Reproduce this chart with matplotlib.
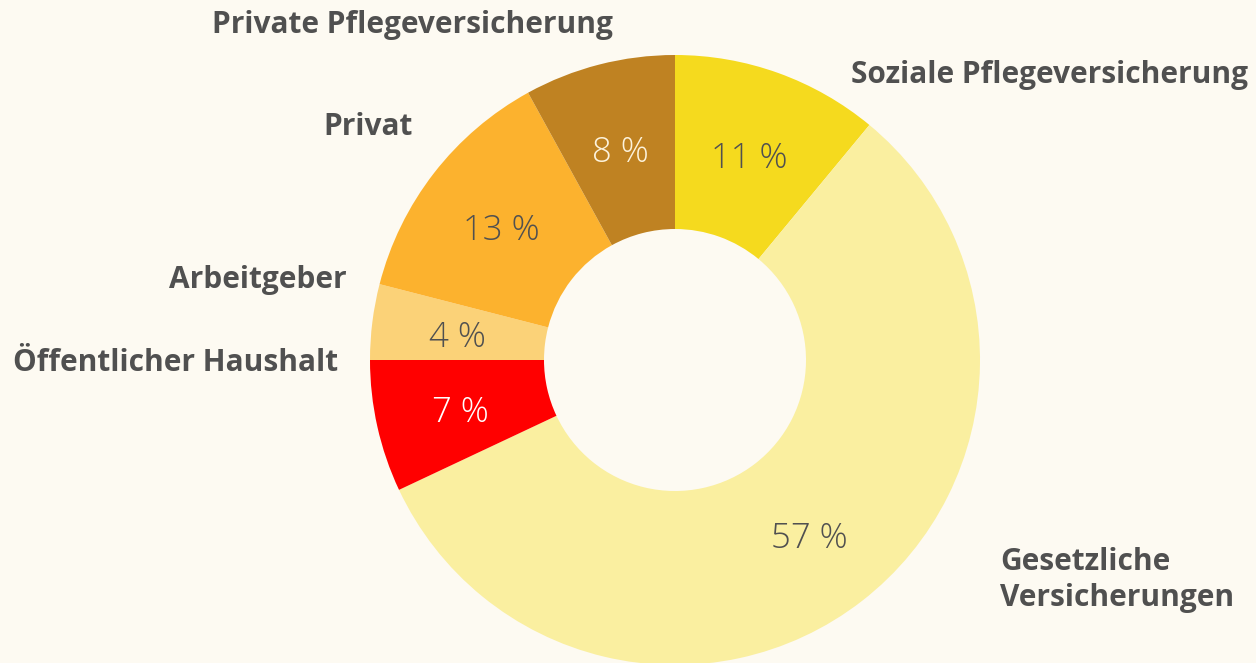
import matplotlib.pyplot as plt
import numpy as np

# Finanzierungsanteile (im Uhrzeigersinn ab 12 Uhr)
labels = ['Soziale Pflegeversicherung', 'Gesetzliche\nVersicherungen', 'Öffentlicher Haushalt',
          'Arbeitgeber', 'Privat', 'Private Pflegeversicherung']
shares = [11, 57, 7, 4, 13, 8]
colors = ['#F5DA1E', '#FAEFA0', '#FF0000', '#FBD278', '#FCB22E', '#BF8222']
pct_colors = ['#505050', '#505050', '#FFFFFF', '#505050', '#505050', '#FDF3DC']

# Beschriftungspositionen in Pixeln (x, y von oben) und Ausrichtung
label_pos = [(851, 75, 'left'), (1000, 580, 'left'), (338, 363, 'right'),
             (347, 280, 'right'), (413, 127, 'right'), (412, 25, 'center')]

W, H = 1256, 663
bg = '#FDFAF2'
plt.rcParams['font.family'] = ['Open Sans', 'DejaVu Sans']

fig = plt.figure(figsize=(W / 100, H / 100), dpi=100, facecolor=bg)
ax = fig.add_axes([0, 0, 1, 1])
ax.set_facecolor(bg)

cx, cy, r, r_in = 675, H - 360, 305, 131
wedges, texts = ax.pie(shares, colors=colors, startangle=90, counterclock=False,
                       center=(cx, cy), radius=r, frame=True,
                       wedgeprops=dict(width=r - r_in, linewidth=0))
ax.set_xlim(0, W)
ax.set_ylim(0, H)
ax.set_aspect('equal')
ax.axis('off')

# Prozentwerte in der Mitte jedes Rings
start = 90.0
total = sum(shares)
for s, pc in zip(shares, pct_colors):
    ang = np.deg2rad(start - s / total * 180)
    start -= s / total * 360
    d = 0.72 * r
    ax.text(cx + d * np.cos(ang), cy + d * np.sin(ang) - 5, f'{s} %', ha='center', va='center',
            fontsize=25, fontweight='light', color=pc)

for lab, (x, y, ha) in zip(labels, label_pos):
    ax.text(x, H - y, lab, ha=ha, va='center', fontsize=21.5, fontweight='bold',
            color='#505050', linespacing=1.3)

fig.savefig('out.png', dpi=100, facecolor=bg)
